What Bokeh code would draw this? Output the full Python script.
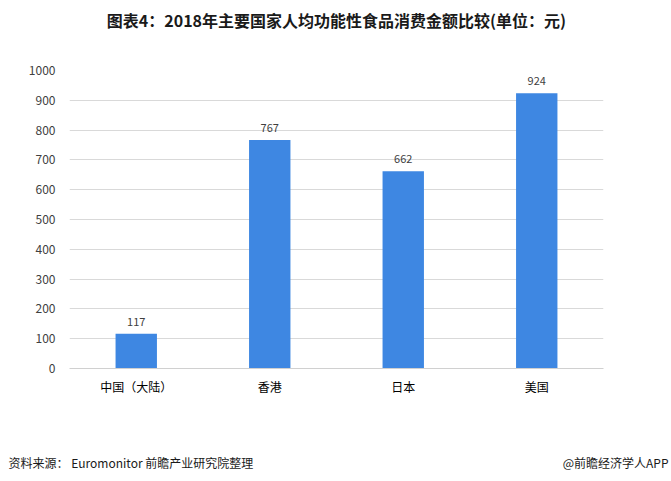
from bokeh.plotting import figure
from bokeh.models import ColumnDataSource, FixedTicker, LabelSet, Title
from bokeh.core.properties import value
from bokeh.embed import file_html
from bokeh.resources import INLINE

categories = ["中国（大陆）", "香港", "日本", "美国"]
values = [117, 767, 662, 924]
y_ticks = [0, 100, 200, 300, 400, 500, 600, 700, 800, 900, 1000]

title_text = "图表4：2018年主要国家人均功能性食品消费金额比较(单位：元)"
source_text = "资料来源： Euromonitor 前瞻产业研究院整理"
brand_text = "@前瞻经济学人APP"

FONT = "Noto Sans CJK SC"

src = ColumnDataSource(dict(cat=categories, val=values, txt=[str(v) for v in values]))

p = figure(x_range=categories, y_range=(0, 1000), width=671, height=481,
           output_backend="svg", toolbar_location=None,
           min_border_left=69, min_border_right=68, min_border_top=70, min_border_bottom=113)
p.outline_line_color = None
p.background_fill_color = "white"
p.border_fill_color = "white"

p.vbar(x="cat", top="val", width=0.31, source=src, fill_color="#3e87e2", line_color=None)

labels = LabelSet(x="cat", y="val", text="txt", source=src, y_offset=8,
                  text_align="center", text_baseline="bottom",
                  text_font=value(FONT), text_font_size="11px", text_color="#404040")
p.add_layout(labels)

p.yaxis.ticker = FixedTicker(ticks=y_ticks)
p.yaxis.axis_line_color = None
p.yaxis.major_tick_line_color = None
p.yaxis.major_tick_out = 0
p.yaxis.major_tick_in = 0
p.yaxis.minor_tick_line_color = None
p.yaxis.major_label_text_font = FONT
p.yaxis.major_label_text_font_size = "12px"
p.yaxis.major_label_text_color = "#404040"
p.yaxis.major_label_standoff = 14

p.xaxis.axis_line_color = "#d0d0d0"
p.xaxis.axis_line_width = 1
p.xaxis.major_tick_line_color = None
p.xaxis.major_tick_out = 0
p.xaxis.major_tick_in = 0
p.xaxis.minor_tick_line_color = None
p.xaxis.major_label_text_font = FONT
p.xaxis.major_label_text_font_size = "12px"
p.xaxis.major_label_text_color = "#000000"
p.xaxis.major_label_standoff = 9

p.xgrid.grid_line_color = None
p.ygrid.grid_line_color = "#d9d9d9"
p.ygrid.ticker = FixedTicker(ticks=y_ticks)

p.title.text = ""

# top: invisible spacer next to the frame, then a zero-height title panel
top_spacer = Title(text=" ", align="center", standoff=33,
                   text_font=FONT, text_font_size="12px", text_color="#ffffff")
p.add_layout(top_spacer, "above")
head = Title(text=title_text, align="center", standoff=-26,
             text_font=FONT, text_font_size="16px", text_font_style="bold",
             text_color="#1a1a1a")
p.add_layout(head, "above")

# bottom: spacer below the x axis, then two zero-height footer panels on one line
bottom_spacer = Title(text=" ", align="center", standoff=44,
                      text_font=FONT, text_font_size="12px", text_color="#ffffff")
p.add_layout(bottom_spacer, "below")
foot_left = Title(text=source_text, align="left",
                  offset=-61, standoff=-20,
                  text_font=FONT, text_font_size="12px", text_font_style="normal",
                  text_color="#1a1a1a")
p.add_layout(foot_left, "below")
foot_right = Title(text=brand_text, align="right",
                   offset=-65, standoff=-20,
                   text_font=FONT, text_font_size="12px", text_font_style="normal",
                   text_color="#1a1a1a")
p.add_layout(foot_right, "below")

open("out.html", "w").write(file_html(p, INLINE))
